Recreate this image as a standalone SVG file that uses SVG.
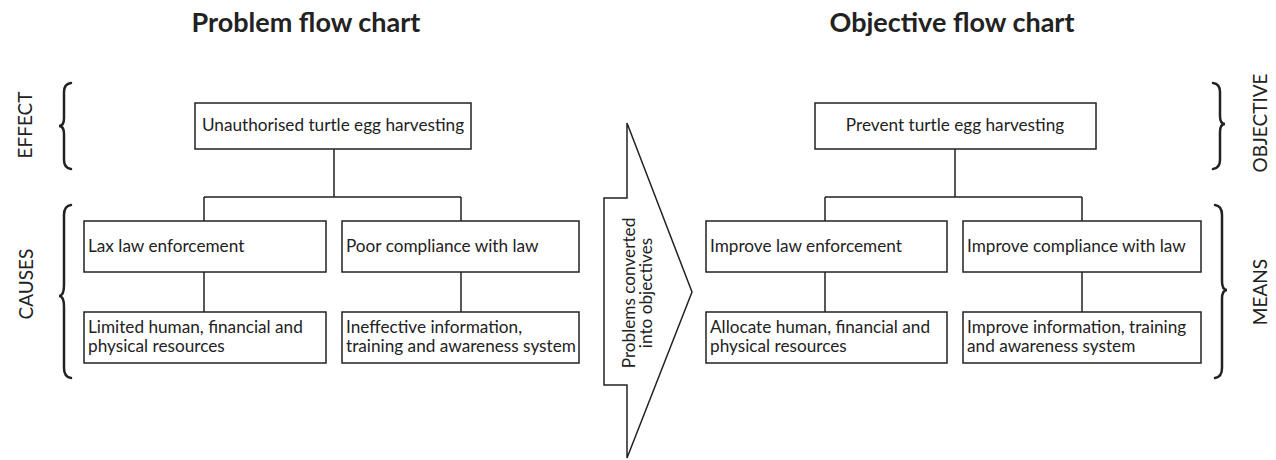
<svg xmlns="http://www.w3.org/2000/svg" width="1276" height="460" viewBox="0 0 1276 460">
<style>
.box{fill:#fff;stroke:#222;stroke-width:1.5}
.ln{fill:none;stroke:#222;stroke-width:1.5}
.br{fill:none;stroke:#222;stroke-width:2.5;stroke-linecap:round}
text{font-family:Lato,"Liberation Sans",sans-serif;fill:#222}
.t{font-size:17.2px}
.c{text-anchor:middle}
.side{font-size:19px;text-anchor:middle}
.title{font-size:27px;font-weight:bold;text-anchor:middle}
</style>
<rect width="1276" height="460" fill="#fff"/>
<text class="title" x="306" y="32">Problem flow chart</text>
<text class="title" x="952" y="32">Objective flow chart</text>

<g id="labels">
<text class="side" transform="translate(32,125) rotate(-90)">EFFECT</text>
<text class="side" transform="translate(33,284) rotate(-90)">CAUSES</text>
<text class="side" transform="translate(1267,123) rotate(-90)">OBJECTIVE</text>
<text class="side" transform="translate(1267,292) rotate(-90)">MEANS</text>
<path class="br" d="M71,83 Q64,84 64,92 L64,118 Q64,126 59,126 Q64,126 64,134 L64,160 Q64,168 71,169"/>
<path class="br" d="M71,205 Q64,206 64,215 L64,285 Q64,296 59,296 Q64,296 64,307 L64,368 Q64,377 71,378"/>
<path class="br" d="M1213,83 Q1220,84 1220,92 L1220,116 Q1220,124 1225,124 Q1220,124 1220,132 L1220,160 Q1220,168 1213,169"/>
<path class="br" d="M1215,205 Q1222,206 1222,215 L1222,281 Q1222,290 1227,290 Q1222,290 1222,299 L1222,368 Q1222,377 1215,378"/>
</g>

<g id="connectors">
<path class="ln" d="M334,149 V197 M204,197 H461 M204,197 V221 M461,197 V221 M204,272 V312 M461,272 V312"/>
<path class="ln" d="M955,149 V197 M825,197 H1082 M825,197 V221 M1082,197 V221 M825,272 V312 M1082,272 V312"/>
</g>

<g id="arrow">
<path class="box" d="M627,123 L692,292 L627,458 L627,385 L604,385 L604,198 L627,198 Z"/>
<text class="t" transform="translate(635,293) rotate(-90)"><tspan x="0" y="0" text-anchor="middle">Problems converted</tspan><tspan x="0" y="17" text-anchor="middle">into objectives</tspan></text>
</g>

<g id="p-top"><rect class="box" x="195" y="103" width="276" height="46"/><text class="t c" x="333" y="131">Unauthorised turtle egg harvesting</text></g>
<g id="p-lax"><rect class="box" x="84" y="221" width="242" height="51"/><text class="t" x="88" y="252">Lax law enforcement</text></g>
<g id="p-poor"><rect class="box" x="342" y="221" width="237" height="51"/><text class="t" x="346" y="252">Poor compliance with law</text></g>
<g id="p-lim"><rect class="box" x="84" y="312" width="242" height="51"/><text class="t" x="88" y="333">Limited human, financial and</text><text class="t" x="88" y="352">physical resources</text></g>
<g id="p-inf"><rect class="box" x="342" y="312" width="237" height="51"/><text class="t" x="346" y="333">Ineffective information,</text><text class="t" x="346" y="352">training and awareness system</text></g>

<g id="o-top"><rect class="box" x="815" y="103" width="281" height="46"/><text class="t c" x="955" y="131">Prevent turtle egg harvesting</text></g>
<g id="o-law"><rect class="box" x="706" y="221" width="241" height="51"/><text class="t" x="710" y="252">Improve law enforcement</text></g>
<g id="o-comp"><rect class="box" x="963" y="221" width="238" height="51"/><text class="t" x="967" y="252">Improve compliance with law</text></g>
<g id="o-all"><rect class="box" x="706" y="312" width="241" height="51"/><text class="t" x="710" y="333">Allocate human, financial and</text><text class="t" x="710" y="352">physical resources</text></g>
<g id="o-inf"><rect class="box" x="963" y="312" width="238" height="51"/><text class="t" x="967" y="333">Improve information, training</text><text class="t" x="967" y="352">and awareness system</text></g>
</svg>
